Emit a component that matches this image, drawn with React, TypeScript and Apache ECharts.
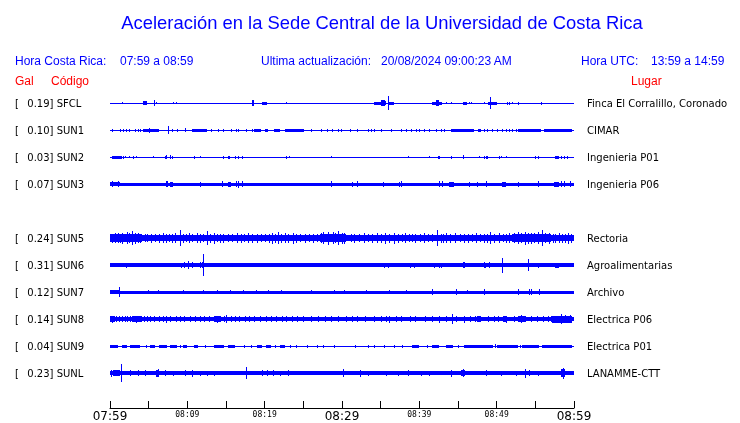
import React, { useEffect, useRef } from 'react';
import * as echarts from 'echarts';

// ---- station table ----
const codes = ['SFCL', 'SUN1', 'SUN2', 'SUN3', 'SUN5', 'SUN6', 'SUN7', 'SUN8', 'SUN9', 'SUNL'];
const galValues = [0.19, 0.10, 0.03, 0.07, 0.24, 0.31, 0.12, 0.14, 0.04, 0.23];
const places = ['Finca El Corralillo, Coronado', 'CIMAR', 'Ingenieria P01', 'Ingenieria P06', 'Rectoria',
  'Agroalimentarias', 'Archivo', 'Electrica P06', 'Electrica P01', 'LANAMME-CTT'];
const rowSlot = [0, 1, 2, 3, 5, 6, 7, 8, 9, 10];
// half width of the quiet trace (amplitude units)
const baseAmp = [0.5, 0.5, 0.5, 1.5, 2.6, 1.7, 1.5, 2.2, 0.5, 1.7];

// ---- time axis ----
const startHour = 7;
const startMinute = 59;
const spanMinutes = 60;

// bursts: [start minute, end minute, half amplitude]; spikes: [minute, half amplitude]
const sfclBursts = [[4.3, 4.8, 2], [18.3, 18.6, 2.7], [19.7, 20.3, 1.5], [34.2, 35.1, 1.5], [35.1, 35.5, 3], [36.1, 36.7, 1.5], [41.6, 42.9, 1.5], [42.2, 42.5, 3.3], [45.6, 46.2, 1.5], [48.9, 50.1, 1.5]];
const sfclSpikes = [[1.6, 1.2], [5.7, 3.3], [6.0, 1.2], [8.2, 1.2], [8.5, 1.2], [22.8, 1.2], [35.6, 2], [36.0, 7], [43.4, 1.2], [44.1, 1.2], [46.4, 1.2], [46.7, 1.2], [48.4, 1.2], [49.2, 6], [51.4, 1.5], [51.6, 1.5], [52.0, 1.2], [52.7, 1.5], [55.7, 1.5]];

const sun1Bursts = [[4.3, 6.4, 1.5], [10.6, 12.5, 1.5], [18.6, 19.5, 1.5], [20.0, 20.4, 1.5], [21.2, 22.0, 1.5], [22.6, 25.1, 1.5], [44.1, 47.1, 1.5], [47.6, 48.0, 1.5], [52.7, 55.7, 1.5], [56.1, 59.8, 1.5]];
const sun1Spikes = [[7.5, 4], [0.2, 1.5], [1.3, 1.5], [1.7, 1.5], [2.1, 1.5], [2.4, 1.5], [3.2, 1.5], [3.65, 1.5], [3.9, 1.5], [5.1, 2.5], [8.0, 1.5], [8.6, 1.5], [9.7, 2], [13.1, 1.5], [14.0, 1.5], [14.6, 1.5], [15.7, 1.5], [16.3, 1.5], [16.6, 1.5], [17.6, 1.5], [18.3, 1.5], [26.0, 1.5], [27.3, 1.5], [28.1, 1.5], [28.7, 1.5], [29.5, 1.5], [29.9, 1.5], [31.0, 1.5], [32.0, 1.5], [33.3, 1.5], [33.8, 1.5], [34.2, 1.5], [35.0, 1.5], [36.3, 1.5], [37.6, 1.5], [38.3, 1.5], [38.9, 1.5], [39.6, 1.5], [40.0, 1.5], [40.6, 1.5], [41.3, 1.5], [42.1, 1.5], [42.8, 1.5], [43.2, 1.5], [48.4, 1.5], [48.8, 1.5], [49.4, 1.5], [50.1, 1.5], [50.7, 1.5], [51.2, 1.5], [51.6, 1.5], [52.0, 1.5], [52.5, 1.5]];

const sun2Bursts = [[0.2, 1.5, 1.5], [57.5, 58.0, 1.5]];
const sun2Spikes = [[1.7, 1.5], [2.0, 1.2], [2.4, 1.2], [3.0, 1.5], [3.3, 1.2], [5.6, 1.2], [7.1, 1.5], [7.3, 2], [7.7, 2], [8.0, 1.5], [10.9, 1.5], [11.6, 1.2], [14.6, 1.5], [15.2, 1.5], [15.4, 1.5], [16.1, 1.5], [16.5, 1.5], [17.1, 1.5], [22.8, 1.5], [23.2, 1.2], [28.6, 1.2], [38.5, 1.2], [41.3, 1.2], [42.4, 1.5], [42.6, 1.5], [44.1, 1.5], [45.6, 2], [47.7, 1.2], [48.3, 1.5], [48.6, 1.5], [48.8, 1.5], [50.3, 1.5], [50.5, 1.2], [51.2, 1.2], [55.0, 1.5], [55.3, 1.5], [58.3, 1.5], [58.7, 1.5], [59.1, 1.5]];

const sun3Bursts = [[0.0, 1.3, 2.2], [7.8, 8.2, 2.5], [15.3, 15.7, 2.5], [43.9, 44.5, 2.5], [50.7, 51.2, 2.5], [57.4, 58.0, 2.5]];
const sun3Spikes = [[0.3, 2.8], [1.0, 2.8], [7.2, 2.7], [7.4, 2.7], [11.7, 2.5], [14.5, 2.7], [16.3, 3.3], [16.6, 3.5], [17.1, 2.8], [28.6, 2.7], [31.3, 2.5], [31.9, 2.7], [35.3, 2.5], [37.4, 2.5], [37.6, 2.7], [42.5, 2.7], [42.9, 2.7], [46.4, 2.5], [47.5, 2.5], [48.6, 2.7], [52.7, 2.5], [55.3, 2.7], [58.3, 2.7], [58.7, 2.7], [59.5, 2.7]];

const sun5Bursts = [[0, 4.1, 3.6], [4.1, 6, 3.0], [6, 9, 3.2], [9, 12.5, 3.0], [12.5, 15, 3.2], [15, 20.5, 2.8], [20.5, 24.5, 3.3], [24.5, 27.2, 2.8], [27.2, 30.5, 3.9], [30.5, 34, 3.0], [34, 38.5, 3.3], [38.5, 42, 3.0], [42, 47, 3.1], [47, 52, 3.0], [52, 57, 3.6], [57, 60, 3.3]];
const sun5Spikes = [[0.6, 5], [1.6, 5.5], [2.2, 6], [2.8, 7], [3.6, 5], [5.3, 4.5], [6.8, 5], [8.4, 5], [9.0, 8], [10.2, 5], [11.2, 5], [12.5, 7], [13.5, 5.5], [14.6, 4.5], [16.4, 5], [17.8, 5], [19.0, 4.5], [20.9, 5.5], [21.7, 6], [22.6, 5], [23.6, 5.5], [25.2, 4.5], [26.3, 4.5], [27.6, 6], [28.2, 6.5], [28.8, 6], [29.5, 7], [30.3, 5.5], [31.6, 4.5], [32.8, 5], [34.5, 5], [35.5, 5.5], [36.7, 5.5], [38.1, 5], [39.5, 4.5], [40.6, 5], [42.3, 8], [43.5, 5], [44.6, 5], [45.8, 4.5], [47.3, 5], [49.2, 6], [50.3, 5], [51.6, 5], [52.8, 6], [53.6, 6.5], [54.4, 5.5], [55.3, 6], [55.9, 8], [56.8, 5.5], [58.0, 5], [59.2, 5.5],
  [0.2, 4.5], [1.0, 5], [1.3, 4.5], [2.5, 5], [3.2, 5.5], [3.9, 4.5], [4.5, 4], [4.8, 4], [5.8, 4], [6.3, 4.5], [7.2, 4.5], [7.6, 4], [8.0, 4.5], [9.5, 4.5], [9.8, 4], [10.6, 4], [11.6, 4.5], [12.0, 4], [12.9, 4.5], [13.9, 4], [14.2, 4.5], [15.3, 4], [15.8, 4], [16.9, 4.5], [17.3, 4], [18.4, 4.5], [19.5, 4], [20.1, 4], [20.5, 4.5], [21.3, 4.5], [22.1, 4.5], [23.0, 4.5], [24.1, 4.5], [24.6, 4], [25.7, 4], [26.8, 4], [27.3, 5], [29.1, 5], [30.0, 5.5], [31.1, 4], [32.2, 4], [33.3, 4], [33.9, 4.5], [35.0, 4.5], [36.1, 4.5], [37.3, 4.5], [37.8, 4], [38.7, 4], [39.0, 4], [40.1, 4], [41.1, 4], [41.6, 4], [42.8, 4.5], [43.1, 4.5], [44.0, 4.5], [45.2, 4], [46.3, 4.5], [46.8, 4], [47.8, 4], [48.4, 4.5], [48.8, 4.5], [49.7, 4.5], [50.8, 4], [51.2, 4.5], [52.2, 5], [53.2, 5], [54.0, 5.5], [54.8, 5], [56.3, 5], [57.3, 4.5], [57.6, 4.5], [58.4, 4.5], [58.8, 4.5], [59.6, 4.5]];

const sun6Bursts = [[57.5, 58.0, 2.5]];
const sun6Spikes = [[2.1, 2.5], [9.2, 2.5], [9.6, 2.8], [10.1, 4.3], [10.6, 2.7], [11.7, 3], [11.9, 3], [12.0, 11], [13.5, 2.2], [20.3, 2.3], [22.9, 2.3], [23.9, 2.2], [26.9, 2.2], [29.6, 2.2], [34.1, 2.3], [35.4, 2.5], [36.0, 2.5], [38.8, 2.5], [39.3, 2.5], [41.4, 2.3], [41.9, 2.5], [42.5, 2.5], [42.8, 2.5], [45.6, 2.7], [45.8, 2.7], [48.3, 2.7], [48.5, 2.5], [49.0, 2.7], [50.7, 7.5], [52.5, 2.3], [54.0, 6], [55.3, 2.5], [56.3, 2.3], [56.8, 2.3]];

const sun7Bursts = [[0.0, 1.3, 2.3]];
const sun7Spikes = [[1.1, 5], [4.9, 2.2], [6.2, 2], [9.5, 2], [12.0, 2], [13.8, 2], [15.5, 2], [17.2, 2], [18.9, 2], [20.4, 2.2], [22.1, 2], [26.0, 2], [29.0, 2], [30.3, 2], [33.1, 2], [36.1, 2], [38.3, 2], [41.7, 2.7], [44.7, 2.7], [46.2, 2], [48.4, 2.7], [52.7, 2.7], [54.2, 3.3], [54.4, 3.3], [55.5, 3.3]];

const sun8Bursts = [[0, 0.7, 3], [2.8, 4.1, 3], [13.5, 14.4, 3], [47.5, 48.0, 3.3], [51.0, 51.4, 3.3], [52.7, 53.8, 3.3], [57.2, 59.8, 3.5]];
const sun8Spikes = [[0.3, 3.5], [1.5, 3], [2.2, 3], [3.4, 3.5], [5.2, 3], [6.3, 3], [7.3, 3.5], [8.5, 3], [10.3, 3], [11.6, 3], [12.8, 3], [13.9, 3.5], [15.0, 3.8], [16.2, 3], [17.4, 3.2], [18.6, 3], [20.2, 3], [21.5, 3], [22.8, 3], [25.0, 3.2], [26.9, 3], [29.5, 3], [32.0, 3], [34.2, 3], [36.1, 3.5], [37.0, 3], [38.8, 3], [40.7, 3], [42.6, 3.5], [44.2, 5], [45.8, 3.5], [48.9, 3.2], [50.2, 3], [51.2, 3.5], [53.2, 3.8], [54.5, 3.2], [56.0, 3], [58.3, 5], [58.8, 4], [59.5, 4],
  [0.8, 3], [1.2, 3.2], [1.9, 3], [2.6, 3], [4.4, 3], [4.8, 3], [5.7, 3], [6.8, 3], [7.8, 3], [9.0, 3], [9.6, 3], [11.0, 3], [12.2, 3], [14.8, 3], [15.6, 3], [16.7, 3], [18.0, 3], [19.4, 3], [20.8, 3], [22.2, 3], [23.5, 3], [24.2, 3], [26.0, 3], [27.8, 3], [28.6, 3], [30.5, 3], [31.3, 3], [33.0, 3], [35.0, 3], [35.7, 3.2], [37.6, 3], [39.5, 3], [41.6, 3], [43.4, 3], [44.8, 3], [46.5, 3], [47.2, 3], [49.6, 3], [50.8, 3], [52.2, 3], [55.2, 3], [56.6, 3], [57.0, 3]];

const sun9Bursts = [[0.0, 1.0, 1.5], [1.5, 2.2, 1.5], [2.6, 3.9, 1.5], [5.2, 5.8, 1.5], [6.3, 7.4, 1.5], [7.8, 8.6, 1.5], [9.5, 10.0, 1.5], [10.8, 11.4, 1.5], [13.5, 14.8, 1.5], [15.2, 16.1, 1.5], [19.0, 19.6, 1.5], [20.2, 20.8, 1.5], [22.0, 22.6, 1.5], [39.0, 40.0, 1.5], [41.7, 42.6, 1.5], [43.5, 44.3, 1.5], [45.8, 49.5, 1.5], [50.0, 52.8, 1.5], [53.3, 55.5, 1.5], [56.0, 59.8, 1.5]];
const sun9Spikes = [[4.6, 1.5], [9.0, 1.5], [12.3, 1.5], [17.3, 1.5], [18.2, 1.5], [21.4, 1.5], [23.3, 1.5], [24.0, 1.5], [25.5, 1.5], [26.8, 1.5], [27.6, 1.5], [29.0, 1.5], [31.7, 1.5], [33.4, 1.5], [34.2, 1.5], [35.4, 1.5], [36.7, 1.5], [37.8, 1.5], [41.0, 1.5], [45.0, 1.5], [49.8, 2], [53.0, 1.5], [55.8, 1.5]];

const sunlBursts = [[0.4, 1.3, 3], [6.0, 6.4, 3.5], [19.4, 22.1, 2.0], [45.4, 45.9, 3.3], [48.6, 48.8, 3], [58.3, 58.9, 4]];
const sunlSpikes = [[0.1, 3.5], [1.4, 9], [2.6, 2.7], [3.65, 2.7], [4.5, 2.7], [6.2, 4], [7.1, 2.7], [8.2, 2.5], [9.7, 2.7], [10.6, 3.5], [11.6, 2.5], [12.6, 2.5], [13.5, 2.5], [15.5, 2.2], [17.6, 6], [19.6, 3], [20.3, 2.7], [21.1, 2.7], [22.0, 2.5], [23.0, 3.2], [30.1, 4], [32.3, 3.5], [33.3, 2.5], [35.7, 2.5], [37.2, 2.5], [38.5, 3], [40.2, 2.5], [41.3, 2.5], [44.1, 3.5], [45.6, 3.8], [50.5, 2.5], [52.5, 2.5], [53.6, 4.5], [54.2, 3], [55.3, 2.5], [58.6, 5.5]];

const allBursts = [sfclBursts, sun1Bursts, sun2Bursts, sun3Bursts, sun5Bursts, sun6Bursts, sun7Bursts, sun8Bursts, sun9Bursts, sunlBursts];
const allSpikes = [sfclSpikes, sun1Spikes, sun2Spikes, sun3Spikes, sun5Spikes, sun6Spikes, sun7Spikes, sun8Spikes, sun9Spikes, sunlSpikes];

const ROW = 27; // amplitude units between two trace baselines
const SPIKE_W = 0.12;

const BLUE = '#0000ff';
const SANS = 'DejaVu Sans';
const ARIAL = 'Liberation Sans';

function pad2(n: number) {
  return (n < 10 ? '0' : '') + n;
}
function timeLabel(v: number) {
  const t = startHour * 60 + startMinute + v;
  return pad2(Math.floor(t / 60) % 24) + ':' + pad2(t % 60);
}
function stationAt(value: number) {
  const slot = Math.round(value / ROW);
  return rowSlot.indexOf(slot);
}

export default function App() {
  const ref = useRef<HTMLDivElement>(null);
  useEffect(() => {
    const chart = echarts.init(ref.current!, undefined, { renderer: 'svg' });

    const data: number[][] = [];
    codes.forEach((_, i) => {
      const c = rowSlot[i] * ROW;
      data.push([0, spanMinutes, c, baseAmp[i]]);
      allBursts[i].forEach((b) => data.push([b[0], b[1], c, b[2]]));
      allSpikes[i].forEach((s) => data.push([s[0], s[0] + SPIKE_W, c, s[1]]));
    });

    const option: any = {
      animation: false,
      grid: { left: 110, right: 166, top: 76, height: 324 },
      xAxis: {
        type: 'value', min: 0, max: spanMinutes, interval: 5, offset: 8, position: 'bottom',
        axisLine: { onZero: false, lineStyle: { color: '#000', width: 1 } },
        axisTick: { inside: true, length: 7, lineStyle: { color: '#000', width: 1 } },
        splitLine: { show: false },
        axisLabel: {
          margin: 1,
          formatter: (v: number) => {
            const r = Math.round(v);
            if (r % 10 !== 0) return '';
            return r % 30 === 0 ? `{big|${timeLabel(r)}}` : `{small|${timeLabel(r)}}`;
          },
          rich: {
            big: { fontSize: 12, fontFamily: SANS, color: '#000', lineHeight: 14 },
            small: { fontSize: 8, fontFamily: 'DejaVu Sans Mono', color: '#000', lineHeight: 10 },
          },
        },
      },
      yAxis: [
        {
          type: 'value', min: -ROW, max: 11 * ROW, interval: ROW, inverse: true, position: 'left',
          axisLine: { show: false }, axisTick: { show: false }, splitLine: { show: false },
          axisLabel: {
            margin: 95, align: 'left',
            formatter: (v: number) => {
              const i = stationAt(v);
              if (i < 0) return '';
              return `{b|[}{t|${galValues[i].toFixed(2)}] ${codes[i]}}`;
            },
            rich: {
              b: { width: 12.3, fontSize: 10, fontFamily: SANS, color: '#000' },
              t: { fontSize: 10, fontFamily: SANS, color: '#000' },
            },
          },
        },
        {
          type: 'value', min: -ROW, max: 11 * ROW, interval: ROW, inverse: true, position: 'right',
          axisLine: { show: false }, axisTick: { show: false }, splitLine: { show: false },
          axisLabel: {
            margin: 13, align: 'left', fontSize: 10, fontFamily: SANS, color: '#000',
            formatter: (v: number) => {
              const i = stationAt(v);
              return i < 0 ? '' : places[i];
            },
          },
        },
      ],
      graphic: [
        { type: 'text', x: 382, y: 22, style: { text: 'Aceleración en la Sede Central de la Universidad de Costa Rica', font: `18.4px "${ARIAL}"`, fill: BLUE, align: 'center', verticalAlign: 'middle' } },
        { type: 'text', x: 15, y: 61, style: { text: 'Hora Costa Rica:', font: `12px "${ARIAL}"`, fill: BLUE, verticalAlign: 'middle' } },
        { type: 'text', x: 120, y: 61, style: { text: '07:59 a 08:59', font: `12px "${ARIAL}"`, fill: BLUE, verticalAlign: 'middle' } },
        { type: 'text', x: 261, y: 61, style: { text: 'Ultima actualización:', font: `12px "${ARIAL}"`, fill: BLUE, verticalAlign: 'middle' } },
        { type: 'text', x: 381, y: 61, style: { text: '20/08/2024 09:00:23 AM', font: `12px "${ARIAL}"`, fill: BLUE, verticalAlign: 'middle' } },
        { type: 'text', x: 581, y: 61, style: { text: 'Hora UTC:', font: `12px "${ARIAL}"`, fill: BLUE, verticalAlign: 'middle' } },
        { type: 'text', x: 651, y: 61, style: { text: '13:59 a 14:59', font: `12px "${ARIAL}"`, fill: BLUE, verticalAlign: 'middle' } },
        { type: 'text', x: 15, y: 81, style: { text: 'Gal', font: `12px "${ARIAL}"`, fill: '#ff0000', verticalAlign: 'middle' } },
        { type: 'text', x: 51, y: 81, style: { text: 'Código', font: `12px "${ARIAL}"`, fill: '#ff0000', verticalAlign: 'middle' } },
        { type: 'text', x: 631, y: 81, style: { text: 'Lugar', font: `12px "${ARIAL}"`, fill: '#ff0000', verticalAlign: 'middle' } },
      ],
      series: [
        {
          type: 'custom',
          xAxisIndex: 0, yAxisIndex: 0,
          encode: { x: [0, 1], y: [2] },
          data,
          renderItem: (_params: any, api: any) => {
            const s = api.value(0), e = api.value(1), c = api.value(2), a = api.value(3);
            const p1 = api.coord([s, c - a]);
            const p2 = api.coord([e, c + a]);
            const x0 = Math.round(Math.min(p1[0], p2[0]));
            const x1 = Math.max(x0 + 1, Math.round(Math.max(p1[0], p2[0])));
            const y0 = Math.round(Math.min(p1[1], p2[1]));
            const y1 = Math.max(y0 + 1, Math.round(Math.max(p1[1], p2[1])));
            return { type: 'rect', shape: { x: x0, y: y0, width: x1 - x0, height: y1 - y0 }, style: { fill: BLUE } };
          },
        },
      ],
    };
    chart.setOption(option);
    return () => chart.dispose();
  }, []);
  return <div ref={ref} style={{ position: 'fixed', left: 0, top: 0, width: 740, height: 423 }} />;
}
